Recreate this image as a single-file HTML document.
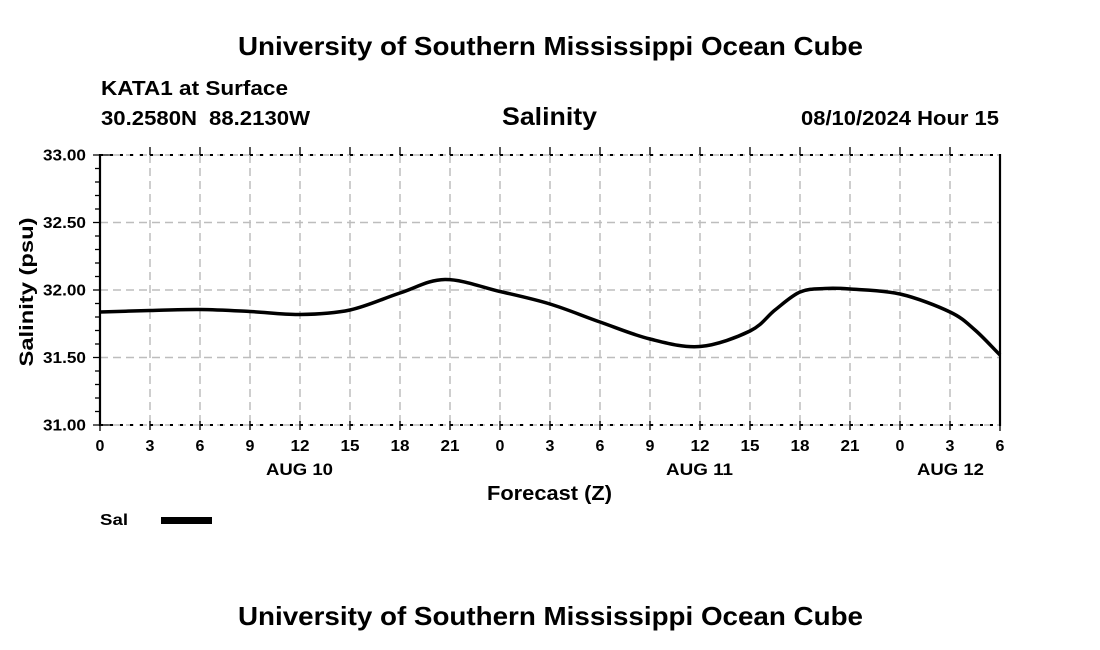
<!DOCTYPE html>
<html>
<head>
<meta charset="utf-8">
<style>
  html, body { margin: 0; padding: 0; background: #fff; }
  svg { display: block; }
  text { font-family: "Liberation Sans", Arial, Helvetica, sans-serif; font-weight: bold; fill: #000; }
</style>
</head>
<body>
<svg width="1100" height="650" viewBox="0 0 1100 650" xmlns="http://www.w3.org/2000/svg">
  <rect x="0" y="0" width="1100" height="650" fill="#fff"/>

  <!-- Titles -->
  <text x="238" y="55" font-size="26" textLength="625" lengthAdjust="spacingAndGlyphs">University of Southern Mississippi Ocean Cube</text>
  <text x="101" y="95" font-size="20" textLength="187" lengthAdjust="spacingAndGlyphs">KATA1 at Surface</text>
  <text x="101" y="125" font-size="20" textLength="96" lengthAdjust="spacingAndGlyphs">30.2580N</text>
  <text x="209" y="125" font-size="20" textLength="101" lengthAdjust="spacingAndGlyphs">88.2130W</text>
  <text x="502" y="125" font-size="25" textLength="95" lengthAdjust="spacingAndGlyphs">Salinity</text>
  <text x="801" y="125" font-size="20" textLength="198" lengthAdjust="spacingAndGlyphs">08/10/2024 Hour 15</text>

  <!-- Gridlines -->
  <g stroke="#bdbdbd" stroke-width="1.5" stroke-dasharray="8,5" fill="none">
    <line x1="100" y1="222.5" x2="1000" y2="222.5"/>
    <line x1="100" y1="290" x2="1000" y2="290"/>
    <line x1="100" y1="357.5" x2="1000" y2="357.5"/>
    <line x1="150" y1="155" x2="150" y2="425"/>
    <line x1="200" y1="155" x2="200" y2="425"/>
    <line x1="250" y1="155" x2="250" y2="425"/>
    <line x1="300" y1="155" x2="300" y2="425"/>
    <line x1="350" y1="155" x2="350" y2="425"/>
    <line x1="400" y1="155" x2="400" y2="425"/>
    <line x1="450" y1="155" x2="450" y2="425"/>
    <line x1="500" y1="155" x2="500" y2="425"/>
    <line x1="550" y1="155" x2="550" y2="425"/>
    <line x1="600" y1="155" x2="600" y2="425"/>
    <line x1="650" y1="155" x2="650" y2="425"/>
    <line x1="700" y1="155" x2="700" y2="425"/>
    <line x1="750" y1="155" x2="750" y2="425"/>
    <line x1="800" y1="155" x2="800" y2="425"/>
    <line x1="850" y1="155" x2="850" y2="425"/>
    <line x1="900" y1="155" x2="900" y2="425"/>
    <line x1="950" y1="155" x2="950" y2="425"/>
    <line x1="100" y1="155" x2="1000" y2="155"/>
    <line x1="100" y1="425" x2="1000" y2="425"/>
  </g>
  <g stroke="#000" stroke-width="2" stroke-dasharray="3,7" fill="none">
    <line x1="100" y1="155" x2="1000" y2="155"/>
    <line x1="100" y1="425" x2="1000" y2="425"/>
  </g>
  <line x1="100" y1="154" x2="100" y2="426" stroke="#000" stroke-width="2.2"/>
  <line x1="1000" y1="154" x2="1000" y2="426" stroke="#000" stroke-width="2.2"/>

  <!-- Y ticks -->
  <g stroke="#000" stroke-width="1.3">
    <line x1="93" y1="155" x2="110" y2="155"/>
    <line x1="93" y1="425" x2="110" y2="425"/>
    <line x1="93" y1="222.5" x2="100" y2="222.5"/>
    <line x1="93" y1="290" x2="100" y2="290"/>
    <line x1="93" y1="357.5" x2="100" y2="357.5"/>
    <line x1="95" y1="168.5" x2="100" y2="168.5"/>
    <line x1="95" y1="182" x2="100" y2="182"/>
    <line x1="95" y1="195.5" x2="100" y2="195.5"/>
    <line x1="95" y1="209" x2="100" y2="209"/>
    <line x1="95" y1="236" x2="100" y2="236"/>
    <line x1="95" y1="249.5" x2="100" y2="249.5"/>
    <line x1="95" y1="263" x2="100" y2="263"/>
    <line x1="95" y1="276.5" x2="100" y2="276.5"/>
    <line x1="95" y1="303.5" x2="100" y2="303.5"/>
    <line x1="95" y1="317" x2="100" y2="317"/>
    <line x1="95" y1="330.5" x2="100" y2="330.5"/>
    <line x1="95" y1="344" x2="100" y2="344"/>
    <line x1="95" y1="371" x2="100" y2="371"/>
    <line x1="95" y1="384.5" x2="100" y2="384.5"/>
    <line x1="95" y1="398" x2="100" y2="398"/>
    <line x1="95" y1="411.5" x2="100" y2="411.5"/>
  </g>
  <!-- X ticks -->
  <g stroke="#000" stroke-width="1.3">
    <line x1="150" y1="147" x2="150" y2="155"/><line x1="200" y1="147" x2="200" y2="155"/>
    <line x1="250" y1="147" x2="250" y2="155"/><line x1="300" y1="147" x2="300" y2="155"/>
    <line x1="350" y1="147" x2="350" y2="155"/><line x1="400" y1="147" x2="400" y2="155"/>
    <line x1="450" y1="147" x2="450" y2="155"/><line x1="500" y1="147" x2="500" y2="155"/>
    <line x1="550" y1="147" x2="550" y2="155"/><line x1="600" y1="147" x2="600" y2="155"/>
    <line x1="650" y1="147" x2="650" y2="155"/><line x1="700" y1="147" x2="700" y2="155"/>
    <line x1="750" y1="147" x2="750" y2="155"/><line x1="800" y1="147" x2="800" y2="155"/>
    <line x1="850" y1="147" x2="850" y2="155"/><line x1="900" y1="147" x2="900" y2="155"/>
    <line x1="950" y1="147" x2="950" y2="155"/>
    <line x1="100" y1="421" x2="100" y2="431"/><line x1="150" y1="421" x2="150" y2="430"/>
    <line x1="200" y1="421" x2="200" y2="430"/><line x1="250" y1="421" x2="250" y2="430"/>
    <line x1="300" y1="421" x2="300" y2="430"/><line x1="350" y1="421" x2="350" y2="430"/>
    <line x1="400" y1="421" x2="400" y2="430"/><line x1="450" y1="421" x2="450" y2="430"/>
    <line x1="500" y1="421" x2="500" y2="430"/><line x1="550" y1="421" x2="550" y2="430"/>
    <line x1="600" y1="421" x2="600" y2="430"/><line x1="650" y1="421" x2="650" y2="430"/>
    <line x1="700" y1="421" x2="700" y2="430"/><line x1="750" y1="421" x2="750" y2="430"/>
    <line x1="800" y1="421" x2="800" y2="430"/><line x1="850" y1="421" x2="850" y2="430"/>
    <line x1="900" y1="421" x2="900" y2="430"/><line x1="950" y1="421" x2="950" y2="430"/>
    <line x1="1000" y1="421" x2="1000" y2="431"/>
  </g>

  <!-- Y tick labels -->
  <g font-size="16" text-anchor="end">
    <text x="86" y="160.5" textLength="43" lengthAdjust="spacingAndGlyphs">33.00</text>
    <text x="86" y="228" textLength="43" lengthAdjust="spacingAndGlyphs">32.50</text>
    <text x="86" y="295.5" textLength="43" lengthAdjust="spacingAndGlyphs">32.00</text>
    <text x="86" y="363" textLength="43" lengthAdjust="spacingAndGlyphs">31.50</text>
    <text x="86" y="430.5" textLength="43" lengthAdjust="spacingAndGlyphs">31.00</text>
  </g>
  <!-- X tick labels -->
  <g font-size="16" text-anchor="middle">
    <text x="100" y="451">0</text><text x="150" y="451">3</text><text x="200" y="451">6</text>
    <text x="250" y="451">9</text><text x="300" y="451" textLength="19" lengthAdjust="spacingAndGlyphs">12</text><text x="350" y="451" textLength="19" lengthAdjust="spacingAndGlyphs">15</text>
    <text x="400" y="451" textLength="19" lengthAdjust="spacingAndGlyphs">18</text><text x="450" y="451" textLength="19" lengthAdjust="spacingAndGlyphs">21</text><text x="500" y="451">0</text>
    <text x="550" y="451">3</text><text x="600" y="451">6</text><text x="650" y="451">9</text>
    <text x="700" y="451" textLength="19" lengthAdjust="spacingAndGlyphs">12</text><text x="750" y="451" textLength="19" lengthAdjust="spacingAndGlyphs">15</text><text x="800" y="451" textLength="19" lengthAdjust="spacingAndGlyphs">18</text>
    <text x="850" y="451" textLength="19" lengthAdjust="spacingAndGlyphs">21</text><text x="900" y="451">0</text><text x="950" y="451">3</text>
    <text x="1000" y="451">6</text>
  </g>
  <g font-size="17">
    <text x="266" y="475" textLength="67" lengthAdjust="spacingAndGlyphs">AUG 10</text>
    <text x="666" y="475" textLength="67" lengthAdjust="spacingAndGlyphs">AUG 11</text>
    <text x="917" y="475" textLength="67" lengthAdjust="spacingAndGlyphs">AUG 12</text>
  </g>
  <text x="487" y="500" font-size="20" textLength="125" lengthAdjust="spacingAndGlyphs">Forecast (Z)</text>
  <text transform="translate(33,292) rotate(-90)" text-anchor="middle" font-size="19" textLength="149" lengthAdjust="spacingAndGlyphs">Salinity (psu)</text>

  <!-- Data curve -->
  <path fill="none" stroke="#000" stroke-width="3.5" stroke-linejoin="round" stroke-linecap="butt"
    d="M100,312
       C116.7,311.5 133.3,310.92 150,310.5
       C166.7,310.08 183.3,309.33 200,309.5
       C216.7,309.67 233.3,310.67 250,311.5
       C266.7,312.33 283.3,314.75 300,314.5
       C316.7,314.25 333.3,313.58 350,310
       C366.7,306.42 384.2,298.08 400,293
       C415.8,287.92 428.3,279.75 445,279.5
       C461.7,279.25 482.5,287.42 500,291.5
       C517.5,295.58 533.3,298.92 550,304
       C566.7,309.08 583.3,316.17 600,322
       C616.7,327.83 633.3,334.92 650,339
       C666.7,343.08 683.3,347.83 700,346.5
       C716.7,345.17 737.5,337.08 750,331
       C762.5,324.92 766.7,316.5 775,310
       C783.3,303.5 791.7,295.58 800,292
       C808.3,288.42 816.7,289 825,288.5
       C833.3,288 837.5,288.08 850,289
       C862.5,289.92 883.3,290.17 900,294
       C916.7,297.83 937.5,306 950,312
       C962.5,318 966.7,322.83 975,330
       C983.3,337.17 991.7,346.7 1000,355"/>

  <!-- Legend -->
  <text x="100" y="525" font-size="16" textLength="28" lengthAdjust="spacingAndGlyphs">Sal</text>
  <rect x="161" y="517" width="51" height="7" fill="#000"/>

  <!-- Bottom title -->
  <text x="238" y="625" font-size="26" textLength="625" lengthAdjust="spacingAndGlyphs">University of Southern Mississippi Ocean Cube</text>
</svg>
</body>
</html>
